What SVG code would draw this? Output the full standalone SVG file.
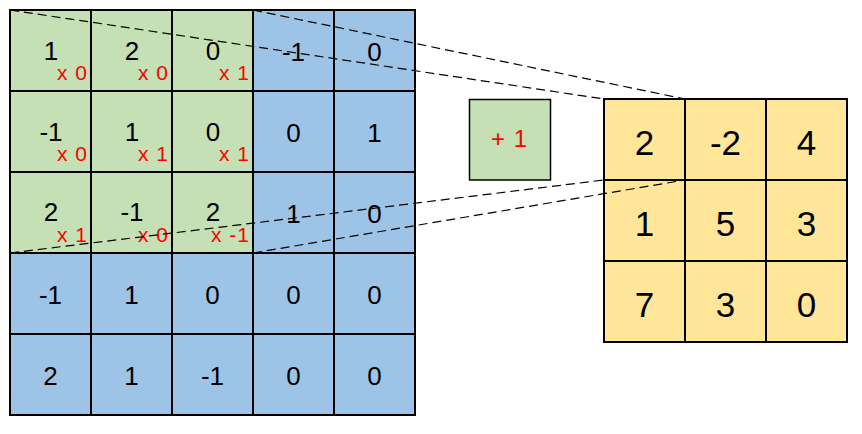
<svg xmlns="http://www.w3.org/2000/svg" width="862" height="434" viewBox="0 0 862 434">
<style>
.g{fill:#C5E0B4;stroke:#000;stroke-width:2}
.b{fill:#9DC3E6;stroke:#000;stroke-width:2}
.y{fill:#FFE699;stroke:#000;stroke-width:2}
.bias{fill:#C5E0B4;stroke:#000;stroke-width:1.5}
.n{font-family:"Liberation Sans",Arial,sans-serif;font-size:26px;fill:#000;text-anchor:middle}
.o{font-family:"Liberation Sans",Arial,sans-serif;font-size:35px;fill:#000;text-anchor:middle}
.k{font-family:"Liberation Sans",Arial,sans-serif;font-size:21px;fill:#FF0000;text-anchor:end;letter-spacing:1px}
.bt{font-family:"Liberation Sans",Arial,sans-serif;font-size:24px;fill:#FF0000;text-anchor:middle;letter-spacing:1px}
.d{fill:none;stroke:#000;stroke-width:1.2;stroke-dasharray:9,5}
</style>
<rect width="862" height="434" fill="#fff"/>
<g id="input">
<g id="c11"><rect class="g" x="10" y="10" width="81" height="81"/><text class="n" x="51" y="60">1</text><text class="k" x="88" y="80">x 0</text></g>
<g id="c12"><rect class="g" x="91" y="10" width="81" height="81"/><text class="n" x="132" y="60">2</text><text class="k" x="169" y="80">x 0</text></g>
<g id="c13"><rect class="g" x="172" y="10" width="81" height="81"/><text class="n" x="213" y="60">0</text><text class="k" x="250" y="80">x 1</text></g>
<g id="c14"><rect class="b" x="253" y="10" width="81" height="81"/><text class="n" x="293.5" y="61">-1</text></g>
<g id="c15"><rect class="b" x="334" y="10" width="81" height="81"/><text class="n" x="374.5" y="61">0</text></g>

<g id="c21"><rect class="g" x="10" y="91" width="81" height="81"/><text class="n" x="51" y="141">-1</text><text class="k" x="88" y="161">x 0</text></g>
<g id="c22"><rect class="g" x="91" y="91" width="81" height="81"/><text class="n" x="132" y="141">1</text><text class="k" x="169" y="161">x 1</text></g>
<g id="c23"><rect class="g" x="172" y="91" width="81" height="81"/><text class="n" x="213" y="141">0</text><text class="k" x="250" y="161">x 1</text></g>
<g id="c24"><rect class="b" x="253" y="91" width="81" height="81"/><text class="n" x="293.5" y="142">0</text></g>
<g id="c25"><rect class="b" x="334" y="91" width="81" height="81"/><text class="n" x="374.5" y="142">1</text></g>

<g id="c31"><rect class="g" x="10" y="172" width="81" height="81"/><text class="n" x="51" y="221">2</text><text class="k" x="88" y="242">x 1</text></g>
<g id="c32"><rect class="g" x="91" y="172" width="81" height="81"/><text class="n" x="132" y="221">-1</text><text class="k" x="169" y="242">x 0</text></g>
<g id="c33"><rect class="g" x="172" y="172" width="81" height="81"/><text class="n" x="213" y="221">2</text><text class="k" x="250" y="242">x -1</text></g>
<g id="c34"><rect class="b" x="253" y="172" width="81" height="81"/><text class="n" x="293.5" y="223">1</text></g>
<g id="c35"><rect class="b" x="334" y="172" width="81" height="81"/><text class="n" x="374.5" y="223">0</text></g>

<g id="c41"><rect class="b" x="10" y="253" width="81" height="81"/><text class="n" x="50.5" y="304">-1</text></g>
<g id="c42"><rect class="b" x="91" y="253" width="81" height="81"/><text class="n" x="131.5" y="304">1</text></g>
<g id="c43"><rect class="b" x="172" y="253" width="81" height="81"/><text class="n" x="212.5" y="304">0</text></g>
<g id="c44"><rect class="b" x="253" y="253" width="81" height="81"/><text class="n" x="293.5" y="304">0</text></g>
<g id="c45"><rect class="b" x="334" y="253" width="81" height="81"/><text class="n" x="374.5" y="304">0</text></g>

<g id="c51"><rect class="b" x="10" y="334" width="81" height="81"/><text class="n" x="50.5" y="385">2</text></g>
<g id="c52"><rect class="b" x="91" y="334" width="81" height="81"/><text class="n" x="131.5" y="385">1</text></g>
<g id="c53"><rect class="b" x="172" y="334" width="81" height="81"/><text class="n" x="212.5" y="385">-1</text></g>
<g id="c54"><rect class="b" x="253" y="334" width="81" height="81"/><text class="n" x="293.5" y="385">0</text></g>
<g id="c55"><rect class="b" x="334" y="334" width="81" height="81"/><text class="n" x="374.5" y="385">0</text></g>
</g>

<g id="bias"><rect class="bias" x="469.5" y="99.5" width="81" height="80.5"/><text class="bt" x="509.5" y="147">+ 1</text></g>

<g id="output">
<g id="o11"><rect class="y" x="604" y="99" width="81" height="81"/><text class="o" x="644.5" y="155">2</text></g>
<g id="o12"><rect class="y" x="685" y="99" width="81" height="81"/><text class="o" x="725.5" y="155">-2</text></g>
<g id="o13"><rect class="y" x="766" y="99" width="81" height="81"/><text class="o" x="806.5" y="155">4</text></g>
<g id="o21"><rect class="y" x="604" y="180" width="81" height="81"/><text class="o" x="644.5" y="236">1</text></g>
<g id="o22"><rect class="y" x="685" y="180" width="81" height="81"/><text class="o" x="725.5" y="236">5</text></g>
<g id="o23"><rect class="y" x="766" y="180" width="81" height="81"/><text class="o" x="806.5" y="236">3</text></g>
<g id="o31"><rect class="y" x="604" y="261" width="81" height="81"/><text class="o" x="644.5" y="317">7</text></g>
<g id="o32"><rect class="y" x="685" y="261" width="81" height="81"/><text class="o" x="725.5" y="317">3</text></g>
<g id="o33"><rect class="y" x="766" y="261" width="81" height="81"/><text class="o" x="806.5" y="317">0</text></g>
</g>

<g id="connectors">
<line class="d" x1="10" y1="10" x2="604" y2="99"/>
<line class="d" x1="253" y1="10" x2="685" y2="99"/>
<line class="d" x1="10" y1="253" x2="604" y2="180"/>
<line class="d" x1="253" y1="253" x2="685" y2="180"/>
</g>
</svg>
